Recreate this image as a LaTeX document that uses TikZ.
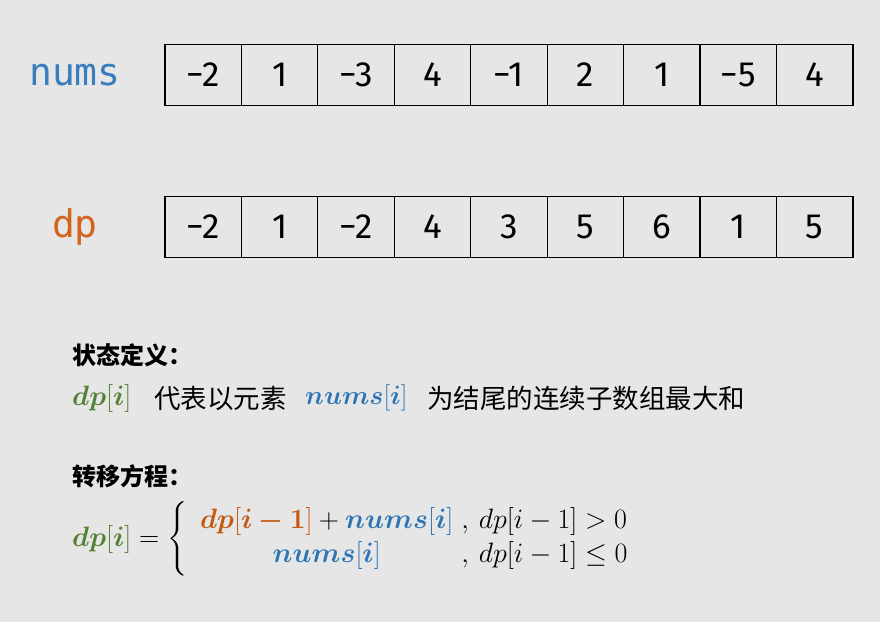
\documentclass[tikz,border=0pt]{standalone}
\usepackage{fix-cm}
\usepackage{amsmath,bm}
\usepackage{fontspec}
\newfontfamily\cjk{Noto Sans CJK SC}
\newfontfamily\cellfont{Fira Sans}
\newfontfamily\labelfont{DejaVu Sans Mono}
\definecolor{bgcolor}{RGB}{230,230,230}
\definecolor{numsblue}{RGB}{46,117,182}
\definecolor{dporange}{RGB}{197,90,17}
\definecolor{dpgreen}{RGB}{84,130,53}
\definecolor{labelblue}{RGB}{58,125,190}
\definecolor{labelorange}{RGB}{210,100,30}
\tikzset{cell/.style={draw,line width=1.2pt,minimum width=76.44pt,minimum height=61pt,
   inner sep=0pt,font=\cellfont\fontsize{35}{36}\selectfont},
 arrlabel/.style={font=\labelfont\fontsize{38}{40}\selectfont},
 heading/.style={anchor=west,inner sep=0pt,font=\cjk\bfseries\fontsize{24}{28}\selectfont},
 body/.style={anchor=west,inner sep=0pt,font=\cjk\fontsize{26.5}{30}\selectfont},
 formula/.style={anchor=west,inner sep=0pt,font=\fontsize{28}{32}\selectfont}}

\begin{document}
\begin{tikzpicture}[x=1pt,y=-1pt]
\fill[bgcolor] (0,0) rectangle (880,622);
\useasboundingbox (0,0) rectangle (880,622);
\node[arrlabel,labelblue] (numslabel) at (75,75) {nums};
\foreach \v [count=\k] in {−2,1,−3,4,−1,2,1,−5,4}
  \node[cell] (nums\k) at ({165+76.44*(\k-0.5)},75) {\v};
\node[arrlabel,labelorange] (dplabel) at (75,227) {dp};
\foreach \v [count=\k] in {−2,1,−2,4,3,5,6,1,5}
  \node[cell] (dp\k) at ({165+76.44*(\k-0.5)},227) {\v};
\node[heading] (defhead) at (72,355) {状态定义：};
\node[formula] (defdp) at (72,398) {$\textcolor{dpgreen}{\bm{dp}[\bm{i}]}$};
\node[body] (defa) at (154,398) {代表以元素};
\node[formula,font=\fontsize{26.5}{30}\selectfont] (defnums) at (305,398) {$\textcolor{numsblue}{\bm{nums}[\bm{i}]}$};
\node[body] (defb) at (427,398) {为结尾的连续子数组最大和};
\node[heading] (transhead) at (72,476) {转移方程：};
\node[formula] (trans) at (72,539) {$\textcolor{dpgreen}{\bm{dp}[\bm{i}]} =
  \left\{\renewcommand{\arraystretch}{1.05}
  \begin{array}{@{\hspace{13pt}}c@{\hspace{8pt},\hspace{10pt}}l}
  \textcolor{dporange}{\bm{dp}[\bm{i-1}]} + \textcolor{numsblue}{\bm{nums}[\bm{i}]} & dp[i-1]>0\\
  \textcolor{numsblue}{\bm{nums}[\bm{i}]} & dp[i-1]\le 0
  \end{array}\right.$};
\end{tikzpicture}
\end{document}
